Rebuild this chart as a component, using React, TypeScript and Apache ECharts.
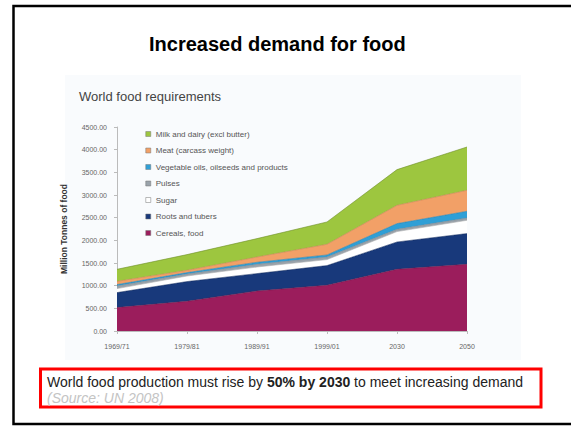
import React, { useEffect, useRef } from "react";
import * as echarts from "echarts";

const categories = ["1969/71", "1979/81", "1989/91", "1999/01", "2030", "2050"];
const cereals = [516, 655, 882, 1008, 1361, 1471];
const roots = [331, 435, 384, 435, 602, 678];
const sugar = [88, 123, 146, 132, 230, 293];
const pulses = [58, 44, 59, 57, 50, 51];
const vegOils = [31, 31, 45, 45, 126, 148];
const meat = [72, 51, 116, 236, 404, 463];
const milk = [265, 346, 406, 492, 787, 955];

const seriesNames = [
  "Cereals, food",
  "Roots and tubers",
  "Sugar",
  "Pulses",
  "Vegetable oils, oilseeds and products",
  "Meat (carcass weight)",
  "Milk and dairy (excl butter)",
];
const seriesData = [cereals, roots, sugar, pulses, vegOils, meat, milk];
const colors = ["#9b1d5c", "#18397b", "#ffffff", "#9aa3ab", "#2f9fd6", "#f2a067", "#9dc63f"];
const lineColors = ["#7a1447", "#122c60", "#b0b0b0", "#7d858c", "#2582b0", "#c98050", "#6f8f2a"];
const yTicks = [0, 500, 1000, 1500, 2000, 2500, 3000, 3500, 4000, 4500];

export default function App() {
  const ref = useRef<HTMLDivElement>(null);
  useEffect(() => {
    if (!ref.current) return;
    const chart = echarts.init(ref.current, null, { renderer: "svg" });
    const font = "'Liberation Sans', Arial, sans-serif";
    chart.setOption({
      animation: false,
      backgroundColor: "#ffffff",
      textStyle: { fontFamily: font },
      grid: { left: 117, right: 104, top: 127, bottom: 95, containLabel: false },
      legend: {
        orient: "vertical",
        left: 140.5,
        top: 125,
        itemWidth: 5,
        itemHeight: 5,
        itemGap: 8.5,
        icon: "rect",
        itemStyle: { borderColor: "#777", borderWidth: 0.5 },
        textStyle: { fontSize: 8, color: "#555", fontFamily: font, padding: [0, 0, 0, 0] },
        data: [...seriesNames].reverse(),
      },
      xAxis: {
        type: "category",
        data: categories,
        boundaryGap: false,
        axisLine: { lineStyle: { color: "#bbbbbb", width: 1 } },
        axisTick: { show: true, length: 3, lineStyle: { color: "#bbbbbb" } },
        axisLabel: { fontSize: 7, color: "#666", margin: 12 },
      },
      yAxis: {
        type: "value",
        min: yTicks[0],
        max: yTicks[yTicks.length - 1],
        interval: 500,
        name: "Million Tonnes of food",
        nameLocation: "middle",
        nameGap: 49,
        nameRotate: 90,
        nameTextStyle: { fontSize: 8.5, fontWeight: "bold", color: "#333" },
        axisLine: { show: true, lineStyle: { color: "#bbbbbb", width: 1 } },
        axisTick: { show: true, length: 3, lineStyle: { color: "#bbbbbb" } },
        splitLine: { show: false },
        axisLabel: {
          fontSize: 7,
          color: "#666",
          margin: 10,
          formatter: (v: number) => v.toFixed(2),
        },
      },
      series: seriesNames.map((name, i) => ({
        name,
        type: "line",
        stack: "total",
        data: seriesData[i],
        symbol: "none",
        itemStyle: { color: colors[i] },
        lineStyle: { color: lineColors[i], width: 0.6 },
        areaStyle: { color: colors[i], opacity: 1 },
        z: 2,
      })),
      graphic: [
        {
          type: "rect",
          z: -10,
          silent: true,
          shape: { x: 65, y: 75, width: 456, height: 285 },
          style: { fill: "#f9fbfd" },
        },
        {
          type: "rect",
          z: 100,
          silent: true,
          shape: { x: 13.5, y: 6, width: 600, height: 418 },
          style: { fill: "none", stroke: "#000000", lineWidth: 2.5 },
        },
        {
          type: "text",
          z: 100,
          left: 149,
          top: 34,
          style: {
            text: "Increased demand for food",
            font: `bold 20px ${font}`,
            fill: "#000000",
          },
        },
        {
          type: "text",
          z: 100,
          left: 79,
          top: 90,
          style: {
            text: "World food requirements",
            font: `13px ${font}`,
            fill: "#444444",
          },
        },
        {
          type: "rect",
          z: 100,
          silent: true,
          shape: { x: 40.5, y: 369, width: 500.5, height: 38 },
          style: { fill: "#ffffff", stroke: "#ff0000", lineWidth: 3 },
        },
        {
          type: "text",
          z: 101,
          left: 47,
          top: 375,
          style: {
            text: "{a|World food production must rise by }{b|50% by 2030}{a| to meet increasing demand}",
            rich: {
              a: { fontSize: 14, fontFamily: font, fill: "#222", color: "#222" },
              b: { fontSize: 14, fontFamily: font, fontWeight: "bold", fill: "#222", color: "#222" },
            },
          },
        },
        {
          type: "text",
          z: 101,
          left: 47,
          top: 391,
          style: {
            text: "(Source: UN 2008)",
            font: `italic 14px ${font}`,
            fill: "#c4c4c4",
          },
        },
      ],
    });
    return () => chart.dispose();
  }, []);
  return (
    <div
      ref={ref}
      style={{ position: "absolute", left: 0, top: 0, width: 571, height: 426 }}
    />
  );
}
